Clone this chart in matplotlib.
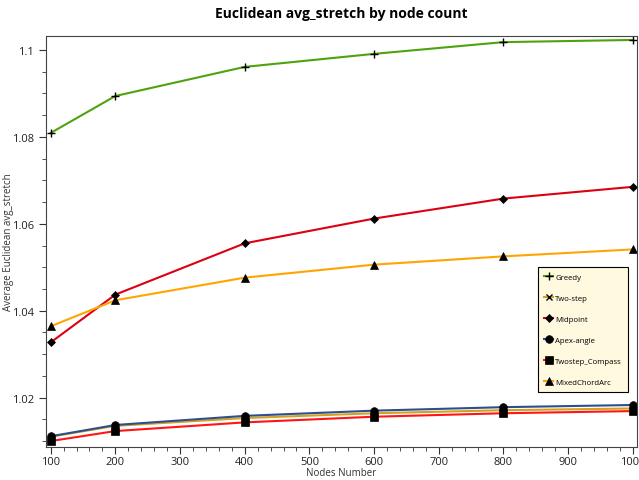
import numpy as np
import matplotlib
matplotlib.use('Agg')
import matplotlib.pyplot as plt
from matplotlib.ticker import MultipleLocator

plt.rcParams['font.family'] = ['Open Sans', 'DejaVu Sans']

# node counts on the x axis
nodes = [100, 200, 400, 600, 800, 1000]

# average euclidean stretch per algorithm
greedy = [1.0809, 1.0894, 1.0961, 1.0991, 1.1018, 1.1023]
two_step = [1.0110, 1.0135, 1.0153, 1.0164, 1.0171, 1.0175]
midpoint = [1.0327, 1.0437, 1.0555, 1.0612, 1.0658, 1.0685]
apex_angle = [1.0111, 1.0137, 1.0158, 1.0170, 1.0178, 1.0183]
twostep_compass = [1.0100, 1.0123, 1.0143, 1.0156, 1.0164, 1.0169]
mixed_chord_arc = [1.0364, 1.0424, 1.0476, 1.0506, 1.0525, 1.0541]

fig = plt.figure(figsize=(6.39, 4.81), dpi=100)
ax = fig.add_axes([0.0715, 0.0692, 0.9255, 0.8538])

#plot each series: label, values, colour, marker, marker size
series = [
    ('Greedy', greedy, '#4ea30c', '+', 6),
    ('Two-step', two_step, '#d4a020', 'x', 5),
    ('Midpoint', midpoint, '#dd0010', 'D', 4.5),
    ('Apex-angle', apex_angle, '#2d4f8e', 'o', 5.5),
    ('Twostep_Compass', twostep_compass, '#ff1515', 's', 5.5),
    ('MixedChordArc', mixed_chord_arc, '#ffa500', '^', 6),
]
for name, vals, cl, mk, ms in series:
    ax.plot(nodes, vals, color=cl, linewidth=1.5, marker=mk, markersize=ms,
            markerfacecolor='black', markeredgecolor='black',
            markeredgewidth=1.0 if mk in '+x' else 0.5, label=name)

ax.set_xlim(92.3, 1006.6)
ax.set_ylim(1.0087, 1.1032)
ax.set_xticks([100, 200, 300, 400, 500, 600, 700, 800, 900, 1000])
ax.xaxis.set_minor_locator(MultipleLocator(20))
ax.set_yticks([1.02, 1.04, 1.06, 1.08, 1.1])
ax.set_yticklabels(['1.02', '1.04', '1.06', '1.08', '1.1'])
ax.yaxis.set_minor_locator(MultipleLocator(0.005))
ax.tick_params(which='major', length=5, labelsize=8, colors='#333333', labelcolor='#222222')
ax.tick_params(which='minor', length=3, colors='#333333')
ax.tick_params(axis='x', which='major', pad=2)
for s in ax.spines.values():
    s.set_color('#444444')

ax.set_title('Euclidean avg_stretch by node count', fontsize=10, fontweight='bold', pad=14)
ax.set_xlabel('Nodes Number', fontsize=7, color='#333333')
ax.set_ylabel('Average Euclidean avg_stretch', fontsize=7, color='#333333')
ax.xaxis.set_label_coords(0.5, -0.049)
ax.yaxis.set_label_coords(-0.054, 0.5)

leg = ax.legend(loc='upper right', bbox_to_anchor=(0.985, 0.4375), borderaxespad=0,
                fontsize=5.6, labelspacing=1.75, handlelength=1.1, handletextpad=0.3,
                borderpad=0.8, fancybox=False, framealpha=1)
leg.get_frame().set_facecolor('#fff9e0')
leg.get_frame().set_edgecolor('black')
leg.get_frame().set_linewidth(0.8)

fig.savefig('out.png', dpi=100)
